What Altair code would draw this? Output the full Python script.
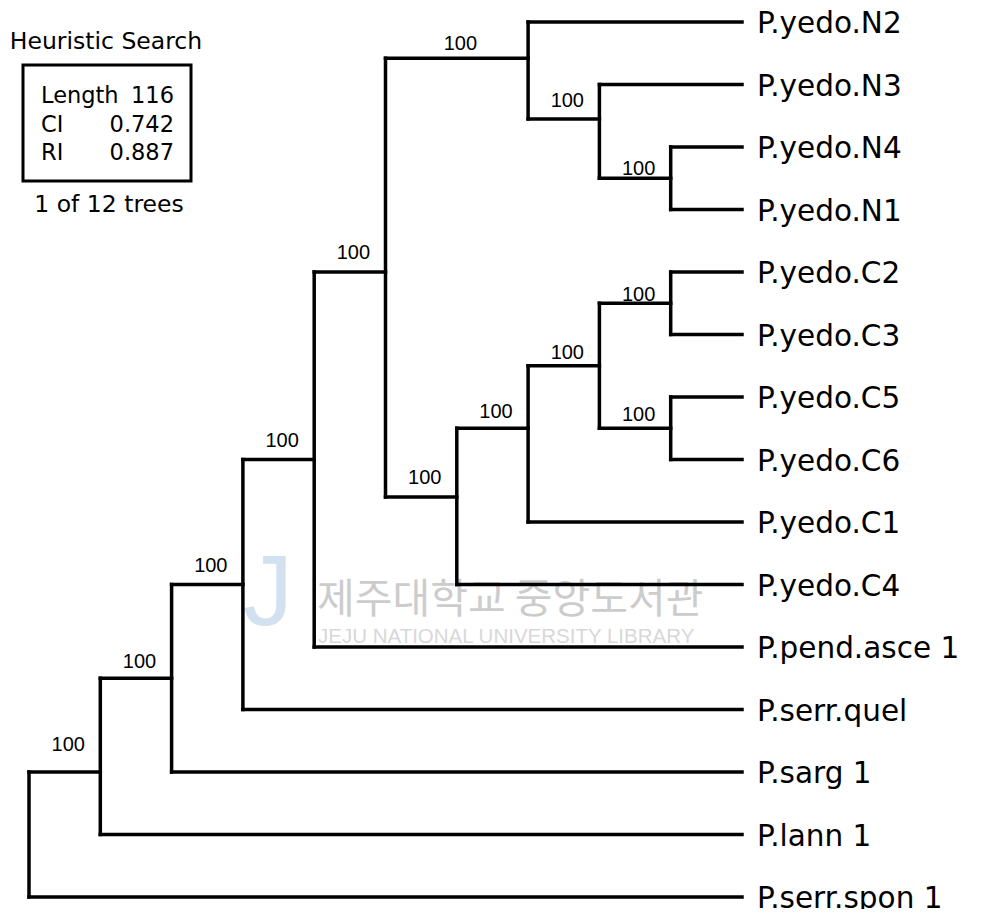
import altair as alt
import pandas as pd

# ---------------- data ----------------
leaves = ["P.yedo.N2", "P.yedo.N3", "P.yedo.N4", "P.yedo.N1", "P.yedo.C2",
          "P.yedo.C3", "P.yedo.C5", "P.yedo.C6", "P.yedo.C1", "P.yedo.C4",
          "P.pend.asce 1", "P.serr.quel", "P.sarg 1", "P.lann 1", "P.serr.spon 1"]
leaf_depth = 10  # all terminals end at the same depth (cladogram)

# internal nodes: name, depth (x), vertical position (in leaf-row units), children
node_names = ["root", "nLann", "nSarg", "nQuel", "nPend", "nNC", "nN", "nN3", "nN4",
              "nC", "nC1", "nC26", "nC23", "nC56"]
node_depth = [0, 1, 2, 3, 4, 5, 7, 8, 9, 6, 7, 8, 9, 9]
node_row = [13.0, 12.0, 10.5, 9.0, 7.0, 4.0, 0.58, 1.55, 2.5, 7.6, 6.5, 5.5, 4.5, 6.5]
node_children = [
    ["nLann", "P.serr.spon 1"],
    ["nSarg", "P.lann 1"],
    ["nQuel", "P.sarg 1"],
    ["nPend", "P.serr.quel"],
    ["nNC", "P.pend.asce 1"],
    ["nN", "nC"],
    ["P.yedo.N2", "nN3"],
    ["P.yedo.N3", "nN4"],
    ["P.yedo.N4", "P.yedo.N1"],
    ["nC1", "P.yedo.C4"],
    ["nC26", "P.yedo.C1"],
    ["nC23", "nC56"],
    ["P.yedo.C2", "P.yedo.C3"],
    ["P.yedo.C5", "P.yedo.C6"],
]
# bootstrap support for each non-root internal node, and the row height of its label
support_nodes = ["nLann", "nSarg", "nQuel", "nPend", "nNC", "nN", "nN3", "nN4",
                 "nC", "nC1", "nC26", "nC23", "nC56"]
support_values = [100, 100, 100, 100, 100, 100, 100, 100, 100, 100, 100, 100, 100]
support_label_row = [11.57, 10.24, 8.70, 6.70, 3.70, 0.35, 1.27, 2.35,
                     7.30, 6.24, 5.29, 4.37, 6.29]

info_title = "Heuristic Search"
info_rows = [("Length", "116"), ("CI", "0.742"), ("RI", "0.887")]
info_footer = "1 of 12 trees"
watermark_kr = "제주대학교 중앙도서관"
watermark_en = "JEJU NATIONAL UNIVERSITY LIBRARY"

# ---------------- tree geometry ----------------
pos = {}
for i, name in enumerate(leaves):
    pos[name] = (leaf_depth, float(i))
for name, d, r in zip(node_names, node_depth, node_row):
    pos[name] = (d, r)
parent = {}
for name, ch in zip(node_names, node_children):
    for c in ch:
        parent[c] = name

segs = []
for name, ch in zip(node_names, node_children):
    ys = [pos[c][1] for c in ch]
    segs.append({"x": pos[name][0], "x2": pos[name][0], "y": min(ys), "y2": max(ys)})
for c, p in parent.items():
    segs.append({"x": pos[p][0], "x2": pos[c][0], "y": pos[c][1], "y2": pos[c][1]})
seg_df = pd.DataFrame(segs)

leaf_df = pd.DataFrame({"label": leaves, "x": [leaf_depth] * len(leaves),
                        "y": list(range(len(leaves)))})

sup_df = pd.DataFrame({
    "label": [str(v) for v in support_values],
    "x": [(pos[parent[n]][0] + pos[n][0]) / 2 + 0.05 for n in support_nodes],
    "y": support_label_row,
})

# ---------------- scales (page pixel anchors) ----------------
W, H = 969, 901
X0, UX = 21.0, 71.3     # pixel of depth 0 inside plot, pixels per depth unit
Y0, UY = 14.0, 62.5     # pixel of row 0 inside plot, pixels per row
sx = alt.Scale(domain=[-X0 / UX, (W - X0) / UX], nice=False, zero=False)
sy = alt.Scale(domain=[-Y0 / UY, (H - Y0) / UY], reverse=True, nice=False, zero=False)


def ux(px):  # page pixel -> depth units
    return (px - 8 - X0) / UX


def uy(py):  # page pixel -> row units
    return (py - 8 - Y0) / UY


X = lambda f: alt.X(f, type="quantitative", scale=sx, axis=None)
Y = lambda f: alt.Y(f, type="quantitative", scale=sy, axis=None)

# ---------------- watermark ----------------
wm_df = pd.DataFrame({"label": [watermark_kr, watermark_en],
                      "x": [ux(317), ux(318)], "y": [uy(601), uy(637)]})
wm_kr = alt.Chart(wm_df.iloc[[0]]).mark_text(
    align="left", baseline="middle", font="Noto Sans CJK KR", fontSize=41,
    color="#c4c4c4", opacity=0.85).encode(x=X("x"), y=Y("y"), text="label")
wm_en = alt.Chart(wm_df.iloc[[1]]).mark_text(
    align="left", baseline="middle", font="Liberation Sans", fontSize=20.5,
    color="#d2d2d2", opacity=0.85).encode(x=X("x"), y=Y("y"), text="label")
logo_df = pd.DataFrame({"label": ["J"], "x": [ux(268)], "y": [uy(595)]})
logo = alt.Chart(logo_df).mark_text(
    align="center", baseline="middle", font="Liberation Sans", fontSize=100,
    color="#9fbbe0", opacity=0.45).encode(x=X("x"), y=Y("y"), text="label")

# ---------------- tree ----------------
branches = alt.Chart(seg_df).mark_rule(
    color="black", strokeWidth=3.5, strokeCap="square").encode(
    x=X("x"), x2="x2", y=Y("y"), y2="y2")

leaf_text = alt.Chart(leaf_df).mark_text(
    align="left", baseline="middle", dx=15, dy=2, font="DejaVu Sans", fontSize=29.5,
    color="black").encode(x=X("x"), y=Y("y"), text="label")

sup_text = alt.Chart(sup_df).mark_text(
    align="center", baseline="middle", font="Liberation Sans", fontSize=20,
    color="black").encode(x=X("x"), y=Y("y"), text="label")

# ---------------- info box ----------------
box_df = pd.DataFrame({"x": [ux(23)], "x2": [ux(191)], "y": [uy(65)], "y2": [uy(181)]})
box = alt.Chart(box_df).mark_rect(
    fillOpacity=0, stroke="black", strokeWidth=3).encode(
    x=X("x"), x2="x2", y=Y("y"), y2="y2")

row_py = [96, 125, 153]
left_df = pd.DataFrame({"label": [r[0] for r in info_rows],
                        "x": [ux(41)] * 3, "y": [uy(p) for p in row_py]})
right_df = pd.DataFrame({"label": [r[1] for r in info_rows],
                         "x": [ux(174)] * 3, "y": [uy(p) for p in row_py]})
left_text = alt.Chart(left_df).mark_text(
    align="left", baseline="middle", font="DejaVu Sans", fontSize=22.5,
    color="black").encode(x=X("x"), y=Y("y"), text="label")
right_text = alt.Chart(right_df).mark_text(
    align="right", baseline="middle", font="DejaVu Sans", fontSize=22.5,
    color="black").encode(x=X("x"), y=Y("y"), text="label")
head_df = pd.DataFrame({"label": [info_title, info_footer],
                        "x": [ux(106), ux(109)], "y": [uy(42), uy(205)]})
head_text = alt.Chart(head_df).mark_text(
    align="center", baseline="middle", font="DejaVu Sans", fontSize=23.5,
    color="black").encode(x=X("x"), y=Y("y"), text="label")

chart = alt.layer(
    logo, wm_kr, wm_en, branches, leaf_text, sup_text, box, left_text, right_text, head_text
).properties(
    width=W, height=H, padding=0, autosize="none", background="white"
).configure_view(stroke=None)

chart.save("out.html", embed_options={"renderer": "svg", "actions": False})
